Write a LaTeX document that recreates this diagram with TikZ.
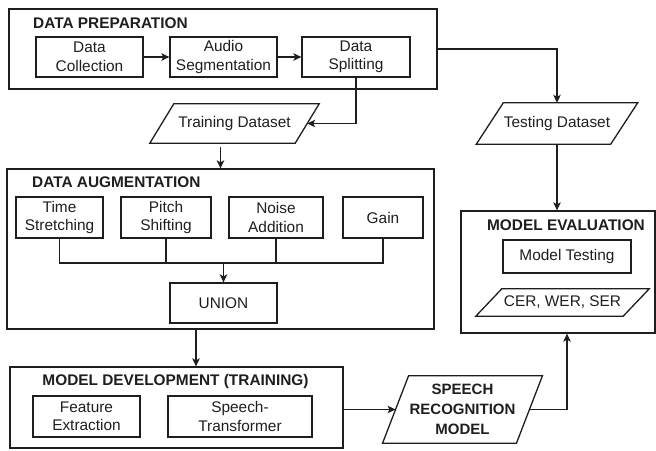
\documentclass[tikz,border=0pt]{standalone}
\usepackage{fontspec}
\setmainfont{Liberation Sans}
\usetikzlibrary{arrows.meta}
\definecolor{ink}{HTML}{1E1E1E}
\tikzset{
  lbl/.style={font=\fontsize{15.4}{18.5}\selectfont, text=ink, align=center, inner sep=0pt},
  group/.style={draw=ink, line width=1.3pt, rectangle, inner sep=0pt},
  proc/.style={lbl, draw=ink, line width=1.3pt, rectangle},
  io/.style={lbl, rectangle},
  heading/.style={lbl, font=\fontsize{15.4}{18.5}\selectfont\bfseries},
  wire/.style={draw=ink, line width=1.3pt},
  arr/.style={wire, -{Stealth[length=8pt,width=7.5pt,inset=2pt]}},
}
% parallelogram outline round an io node: #1 node name, #2 half of the slant offset
\newcommand\slantoutline[2]{%
  \draw[wire, line join=miter]
    ([xshift=-#2 pt]#1.south west) -- ([xshift=#2 pt]#1.north west)
    -- ([xshift=#2 pt]#1.north east) -- ([xshift=-#2 pt]#1.south east) -- cycle;}
\begin{document}
\begin{tikzpicture}[x=1pt,y=-1pt]
\useasboundingbox (0,0) rectangle (656,450);

% ---- data preparation ----
\node[group, minimum width=428, minimum height=80] (prep) at (223,49) {};
\node[heading, anchor=base west] (prepT) at (33,28.5) {DATA PREPARATION};
\node[proc, minimum width=107, minimum height=40] (dc) at (89.5,57) {Data\\Collection};
\node[proc, minimum width=107, minimum height=40] (as) at (223.5,57) {Audio\\Segmentation};
\node[proc, minimum width=108, minimum height=40] (ds) at (356,57) {Data\\Splitting};
\draw[arr] (dc) -- (as);
\draw[arr] (as) -- (ds);

% ---- datasets ----
\node[io, minimum width=145, minimum height=39] (train) at (234.5,123.5) {Training Dataset};
\slantoutline{train}{12}
\node[io, minimum width=134, minimum height=41] (test) at (557,123.5) {Testing Dataset};
\slantoutline{test}{13.5}
\draw[arr] (ds.south) |- (train.east);
\draw[arr] (prep.east) -| (test.north);

% ---- data augmentation ----
\node[group, minimum width=427, minimum height=160] (aug) at (220.5,249) {};
\node[heading, anchor=base west] (augT) at (32,187.5) {DATA AUGMENTATION};
\node[proc, minimum width=87, minimum height=41] (ts) at (59.5,217.5) {Time\\Stretching};
\node[proc, minimum width=90, minimum height=41] (ps) at (166,217.5) {Pitch\\Shifting};
\node[proc, minimum width=94, minimum height=41] (na) at (276,217.5) {Noise\\Addition};
\node[proc, minimum width=80, minimum height=41] (gain) at (383,217.5) {Gain};
\node[proc, minimum width=107, minimum height=40] (union) at (223.5,303) {UNION};
\coordinate (bus) at (223.5,263);
\draw[arr, shorten <=4pt] ([xshift=-14pt]train.south) -- ([xshift=-14pt]train.south |- aug.north);
\draw[wire] (ts.south) |- (gain.south |- bus) -- (gain.south);
\draw[wire] (ps.south) -- (ps.south |- bus);
\draw[wire] (na.south) -- (na.south |- bus);
\draw[arr] (bus) -- (union.north);

% ---- model development ----
\node[group, minimum width=333, minimum height=81] (md) at (176.5,407.5) {};
\node[heading, anchor=base] (mdT) at (175.5,385.5) {MODEL DEVELOPMENT (TRAINING)};
\node[proc, minimum width=107, minimum height=41] (fe) at (86.5,416.5) {Feature\\Extraction};
\node[proc, minimum width=144, minimum height=41] (st) at (240,416.5) {Speech-\\Transformer};
\draw[arr] ([xshift=-24.5pt]aug.south) -- ([xshift=-24.5pt]aug.south |- md.north);

% ---- trained model ----
\node[io, font=\fontsize{15}{20}\selectfont\bfseries,
      minimum width=133.5, minimum height=67] (srm) at (462.5,409.5) {SPEECH\\RECOGNITION\\MODEL};
\slantoutline{srm}{13}
\draw[arr] (md.east |- srm.west) -- (srm.west);

% ---- model evaluation ----
\node[group, minimum width=194, minimum height=122] (me) at (558,272) {};
\node[heading, anchor=base] (meT) at (566,230.5) {MODEL EVALUATION};
\node[proc, minimum width=128, minimum height=33] (mt) at (567,256.5) {Model Testing};
\node[io, minimum width=147, minimum height=27] (cer) at (562.5,302.5) {CER, WER, SER};
\slantoutline{cer}{13}
\draw[arr] (test.south) -- (test.south |- me.north);
\draw[arr] (srm.east) -| ([xshift=9pt]me.south);
\end{tikzpicture}
\end{document}
